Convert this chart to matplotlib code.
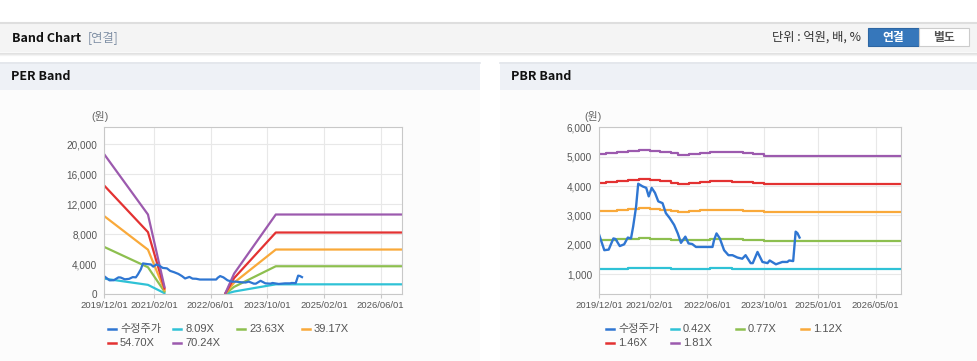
import matplotlib
matplotlib.use("Agg")
import matplotlib.pyplot as plt
import pandas as pd
from matplotlib.patches import Rectangle
from matplotlib.lines import Line2D

plt.rcParams['font.family'] = ['Liberation Sans', 'Noto Sans CJK KR']

W, H = 978, 361

# ---- data ----
price_dates = ["2019-12-01", "2020-01-15", "2020-02-21", "2020-04-01", "2020-04-19",
               "2020-05-25", "2020-07-01", "2020-08-01", "2020-08-28", "2020-09-15",
               "2020-10-10", "2020-10-28", "2020-12-04", "2021-01-04", "2021-01-25",
               "2021-02-19", "2021-03-19", "2021-04-16", "2021-05-22", "2021-06-19",
               "2021-07-22", "2021-08-28", "2021-09-28", "2021-10-25", "2021-12-01",
               "2021-12-28", "2022-01-28", "2022-03-01", "2022-07-19", "2022-08-01",
               "2022-08-22", "2022-09-19", "2022-10-25", "2022-12-01", "2023-01-04",
               "2023-02-15", "2023-03-28", "2023-04-25", "2023-06-07", "2023-06-25",
               "2023-08-04", "2023-09-15", "2023-10-28", "2023-11-15", "2024-01-07",
               "2024-03-01", "2024-04-13", "2024-04-28", "2024-06-01", "2024-06-22",
               "2024-07-07", "2024-07-25"]
price = [2360, 1820, 1840, 2220, 2200, 1960, 2020, 2250, 2220, 2620,
         3300, 4080, 3990, 3940, 3650, 3940, 3770, 3480, 3420, 3080,
         2910, 2680, 2390, 2070, 2280, 2050, 2030, 1930, 1930, 2160,
         2390, 2220, 1820, 1650, 1650, 1570, 1530, 1650, 1380, 1380,
         1760, 1420, 1380, 1470, 1340, 1420, 1420, 1470, 1450, 2450,
         2400, 2250]

# PER band (two segments, EPS negative in between)
per_dates_1 = ["2019-12-01", "2020-12-10", "2021-05-01"]
per_dates_2 = ["2022-10-07", "2022-12-20", "2023-12-13", "2026-12-01"]
per_labels = ["8.09X", "23.63X", "39.17X", "54.70X", "70.24X"]
per_band_1 = {
    "8.09X": [2050, 1220, 110],
    "23.63X": [6270, 3570, 320],
    "39.17X": [10380, 5910, 520],
    "54.70X": [14450, 8250, 730],
    "70.24X": [18620, 10600, 940],
}
per_band_2 = {
    "8.09X": [20, 330, 1290, 1290],
    "23.63X": [50, 950, 3700, 3700],
    "39.17X": [85, 1520, 5930, 5930],
    "54.70X": [115, 2120, 8200, 8200],
    "70.24X": [150, 2720, 10600, 10600],
}

# PBR band (quarterly steps)
pbr_dates = ["2019-12-01", "2020-02-01", "2020-05-01", "2020-08-01", "2020-11-01",
             "2021-02-01", "2021-05-01", "2021-08-01", "2021-10-01", "2022-01-01",
             "2022-04-01", "2022-07-01", "2022-10-01", "2023-01-01", "2023-04-01",
             "2023-07-01", "2023-10-01", "2026-12-01"]
pbr_labels = ["0.42X", "0.77X", "1.12X", "1.46X", "1.81X"]
pbr_band = {
    "0.42X": [1183, 1188, 1197, 1206, 1216, 1209, 1199, 1186, 1174, 1181,
              1190, 1199, 1199, 1195, 1188, 1179, 1169, 1169],
    "0.77X": [2170, 2178, 2195, 2212, 2229, 2216, 2199, 2174, 2153, 2165,
              2182, 2199, 2199, 2191, 2178, 2161, 2144, 2144],
    "1.12X": [3156, 3168, 3193, 3218, 3243, 3224, 3199, 3162, 3131, 3150,
              3174, 3199, 3199, 3187, 3168, 3144, 3119, 3119],
    "1.46X": [4114, 4130, 4162, 4194, 4227, 4202, 4170, 4122, 4081, 4106,
              4138, 4170, 4170, 4154, 4130, 4098, 4065, 4065],
    "1.81X": [5100, 5120, 5160, 5200, 5240, 5210, 5170, 5110, 5060, 5090,
              5130, 5170, 5170, 5150, 5120, 5080, 5040, 5040],
}

per_xticks = ["2019/12/01", "2021/02/01", "2022/06/01", "2023/10/01", "2025/02/01", "2026/06/01"]
pbr_xticks = ["2019/12/01", "2021/02/01", "2022/06/01", "2023/10/01", "2025/01/01", "2026/05/01"]
per_yticks = [0, 4000, 8000, 12000, 16000, 20000]
pbr_yticks = [1000, 2000, 3000, 4000, 5000, 6000]

PRICE_COLOR = "#2f76d2"
BAND_COLORS = ["#2fc2d6", "#8dbf4f", "#f9a93a", "#e33232", "#9c5aae"]


def fx(x):
    return x / W


def fy(y):
    return 1 - y / H


def rect(fig, x0, y0, x1, y1, **kw):
    fig.patches.append(Rectangle((fx(x0), fy(y1)), fx(x1) - fx(x0), fy(y0) - fy(y1),
                                 transform=fig.transFigure, zorder=-10, **kw))


def hline(fig, x0, x1, y, **kw):
    fig.lines.append(Line2D([fx(x0), fx(x1)], [fy(y), fy(y)], transform=fig.transFigure,
                            zorder=-5, **kw))


fig = plt.figure(figsize=(W / 100, H / 100), dpi=100)
fig.patch.set_facecolor("white")

# header bar
rect(fig, 0, 22, W, 52, facecolor="#f4f4f4", edgecolor="none")
hline(fig, 0, W, 22.5, color="#dedede", lw=1.5)
for i, a in enumerate([0.35, 0.2, 0.1]):
    hline(fig, 0, W, 52.5 + i, color="#b0b0b0", lw=1, alpha=a)
fig.text(fx(12), fy(38), "Band Chart", family=["Noto Sans CJK KR"], weight="bold",
         fontsize=9, color="#111111", va="center")
fig.text(fx(88), fy(38), "[연결]", family=["Noto Sans CJK KR"], fontsize=8.8,
         color="#8191a6", va="center")
fig.text(fx(861), fy(37.5), "단위 : 억원, 배, %", family=["Noto Sans CJK KR"], fontsize=8.8,
         color="#333333", va="center", ha="right")
rect(fig, 868, 28, 919, 46, facecolor="#3677bb", edgecolor="#2d66a3", lw=0.8)
rect(fig, 919, 28, 969, 46, facecolor="white", edgecolor="#cccccc", lw=0.8)
fig.text(fx(893.5), fy(37), "연결", family=["Noto Sans CJK KR"], weight="bold",
         fontsize=8.5, color="white", va="center", ha="center")
fig.text(fx(944), fy(37), "별도", family=["Noto Sans CJK KR"], weight="bold",
         fontsize=8.5, color="#555555", va="center", ha="center")

# panels
for x0, x1, title in [(0, 480, "PER Band"), (500, W, "PBR Band")]:
    rect(fig, x0, 90, x1, H, facecolor="#fcfcfc", edgecolor="none")
    rect(fig, x0, 62, x1, 90, facecolor="#eef1f6", edgecolor="none")
    hline(fig, x0, x1, 62.5, color="#e2e5ea", lw=1.2)
    fig.text(fx(x0 + 11), fy(77), title, family=["Noto Sans CJK KR"], weight="bold",
             fontsize=9, color="#111111", va="center")


def style_axis(ax, ylim, yticks, xticks):
    ax.set_facecolor("white")
    ax.set_xlim(pd.Timestamp("2019-12-01"), pd.Timestamp("2026-12-01"))
    ax.set_ylim(*ylim)
    ax.set_yticks(yticks)
    ax.set_yticklabels([f"{v:,}" for v in yticks])
    ax.set_xticks(pd.to_datetime([t.replace("/", "-") for t in xticks]))
    ax.set_xticklabels(xticks)
    ax.grid(True, color="#e8e8e8", lw=0.8)
    ax.set_axisbelow(True)
    for s in ax.spines.values():
        s.set_color("#c8c8c8")
        s.set_linewidth(0.8)
    ax.tick_params(axis="x", length=3, color="#c8c8c8", labelsize=6.8, labelcolor="#555555", pad=2)
    ax.tick_params(axis="y", length=0, labelsize=7.2, labelcolor="#555555", pad=5)


def legend(fig, x_cols, y_rows, items):
    for (label, color), pos in zip(items, [(0, 0), (1, 0), (2, 0), (3, 0), (0, 1), (1, 1)]):
        x = x_cols[pos[0]]
        y = y_rows[pos[1]]
        fig.lines.append(Line2D([fx(x), fx(x + 8)], [fy(y), fy(y)], color=color, lw=1.8,
                                transform=fig.transFigure))
        fig.text(fx(x + 12), fy(y), label, fontsize=8, color="#555555", va="center")


# PER chart
ax1 = fig.add_axes([fx(104.3), fy(294), fx(402) - fx(104.3), fy(127.3) - fy(294)])
style_axis(ax1, (0, 22230), per_yticks, per_xticks)
for lab, c in zip(per_labels, BAND_COLORS):
    ax1.plot(pd.to_datetime(per_dates_1), per_band_1[lab], color=c, lw=1.6)
    ax1.plot(pd.to_datetime(per_dates_2), per_band_2[lab], color=c, lw=1.6)
ax1.plot(pd.to_datetime(price_dates), price, color=PRICE_COLOR, lw=1.6)
fig.text(fx(100), fy(116.5), "(원)", fontsize=7.8, color="#666666", va="center", ha="center")
legend(fig, [108, 173, 237, 302], [329, 343],
       [("수정주가", PRICE_COLOR)] + list(zip(per_labels, BAND_COLORS)))

# PBR chart
ax2 = fig.add_axes([fx(599), fy(294), fx(901) - fx(599), fy(126.7) - fy(294)])
style_axis(ax2, (330, 6020), pbr_yticks, pbr_xticks)
for lab, c in zip(pbr_labels, BAND_COLORS):
    ax2.plot(pd.to_datetime(pbr_dates), pbr_band[lab], color=c, lw=1.6, drawstyle="steps-post")
ax2.plot(pd.to_datetime(price_dates), price, color=PRICE_COLOR, lw=1.7)
fig.text(fx(593), fy(116), "(원)", fontsize=7.8, color="#666666", va="center", ha="center")
legend(fig, [606, 671, 736, 801], [329, 343],
       [("수정주가", PRICE_COLOR)] + list(zip(pbr_labels, BAND_COLORS)))

fig.savefig("out.png", dpi=100)
